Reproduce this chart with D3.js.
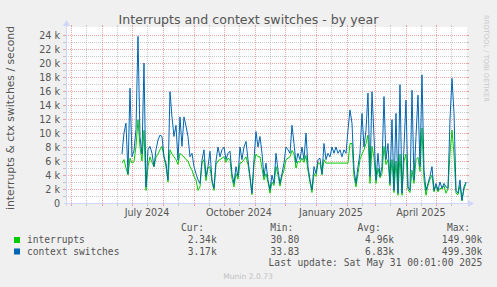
<!DOCTYPE html>
<html><head><meta charset="utf-8">
<script src="https://cdn.jsdelivr.net/npm/d3@7"></script>
<style>
html,body{margin:0;padding:0;background:#f0f0f0;}
svg{display:block;}
text{font-family:"DejaVu Sans",sans-serif;}
.mono{font-family:"DejaVu Sans Mono",monospace;}
</style></head><body>
<svg id="c" width="497" height="287"></svg>
<script>
// ---- data (values in thousands per second) ----
const firstSample = "2024-06-21";
const sampleStepDays = 2;
const contextSwitches = [
 7.0, 10.0, 11.4, 4.2, 16.4, 6.6, 7.5, 10.5, 23.8, 9.5,
 7.0, 20.0, 2.3, 7.6, 8.1, 7.1, 5.2, 7.6, 9.0, 9.7,
 9.5, 6.6, 5.7, 3.3, 15.9, 12.3, 9.5, 11.1, 6.1, 12.3,
 8.1, 12.3, 11.0, 9.5, 6.6, 7.1, 5.2, 4.2, 3.3, 2.8,
 6.1, 7.6, 3.8, 5.2, 7.4, 3.3, 2.1, 6.0, 8.0, 6.6,
 7.6, 8.0, 6.2, 7.1, 7.4, 4.2, 2.8, 5.2, 3.8, 8.0,
 6.2, 8.0, 8.8, 6.2, 3.8, 1.4, 6.2, 10.2, 8.0, 9.5,
 7.1, 3.8, 5.7, 3.3, 1.9, 4.0, 2.8, 7.1, 4.7, 2.8,
 4.2, 5.7, 8.0, 7.6, 7.1, 11.1, 8.5, 5.7, 7.1, 6.2,
 8.0, 6.2, 10.0, 5.2, 3.3, 1.9, 5.2, 4.2, 6.2, 6.4,
 4.2, 8.5, 6.2, 7.1, 6.6, 8.0, 7.1, 8.0, 7.1, 7.6,
 6.6, 7.6, 7.1, 10.4, 13.3, 11.4, 4.8, 2.8, 5.2, 7.1,
 12.8, 8.0, 10.4, 15.7, 3.8, 15.9, 9.5, 3.3, 7.1, 3.8,
 5.2, 15.2, 6.2, 8.5, 2.8, 11.9, 1.8, 12.8, 1.4, 16.9,
 1.4, 8.0, 14.7, 2.3, 1.8, 16.1, 3.3, 9.5, 15.4, 5.2,
 18.3, 4.7, 1.8, 2.8, 3.8, 5.2, 1.8, 2.8, 1.8, 3.0,
 2.1, 2.8, 2.3, 2.1, 11.9, 17.8, 12.9, 1.8, 1.4, 3.3,
 0.4, 2.3, 3.0
];
const interrupts = [
 5.7, 6.2, 5.0, 4.0, 6.4, 5.7, 5.9, 8.1, 11.9, 8.0,
 6.0, 10.4, 1.8, 5.2, 6.6, 5.8, 5.2, 6.5, 7.0, 7.6,
 8.1, 6.6, 5.2, 3.0, 7.6, 7.0, 6.6, 6.2, 5.5, 7.1,
 6.8, 6.6, 6.2, 6.0, 5.2, 4.7, 3.8, 3.3, 1.8, 2.3,
 5.7, 6.2, 3.2, 5.0, 5.2, 3.0, 1.8, 5.5, 6.0, 6.2,
 6.4, 6.6, 5.8, 6.4, 6.2, 3.5, 2.3, 4.2, 3.4, 5.7,
 5.8, 6.2, 6.6, 5.5, 3.5, 1.2, 5.5, 7.0, 6.6, 6.6,
 5.0, 3.3, 4.2, 3.0, 1.4, 3.0, 2.5, 5.2, 4.0, 2.4,
 3.8, 4.7, 6.2, 6.4, 6.6, 7.5, 7.0, 5.0, 6.0, 5.8,
 6.4, 5.8, 6.8, 4.6, 2.9, 1.5, 4.2, 3.8, 5.7, 5.7,
 4.0, 6.2, 5.7, 5.7, 5.7, 5.7, 5.7, 5.7, 5.7, 5.7,
 5.7, 5.7, 5.7, 5.7, 8.5, 8.5, 3.8, 2.3, 4.2, 6.2,
 7.0, 7.6, 8.5, 9.7, 2.8, 8.1, 6.5, 2.8, 5.0, 3.6,
 4.2, 8.1, 5.5, 6.2, 2.5, 6.2, 1.5, 6.0, 1.1, 7.0,
 1.1, 6.0, 7.0, 1.9, 1.5, 4.7, 2.8, 6.2, 6.5, 4.5,
 10.7, 3.3, 1.1, 2.5, 3.4, 4.0, 1.6, 2.5, 1.6, 2.1,
 2.0, 2.5, 1.4, 2.0, 7.1, 10.4, 7.0, 1.4, 1.2, 2.5,
 0.3, 2.0, 2.8
];
const yTickValues = [0, 2, 4, 6, 8, 10, 12, 14, 16, 18, 20, 22, 24];
const xLabels = ["July 2024", "October 2024", "January 2025", "April 2025"];
const xLabelMonths = ["2024-07-16", "2024-10-16", "2025-01-16", "2025-04-16"];
const seriesNames = ["interrupts", "context switches"];
const seriesColors = ["#00cc00", "#0066b3"];
const statHeaders = ["Cur:", "Min:", "Avg:", "Max:"];
const statsInterrupts = ["2.34k", "30.80", "4.96k", "149.90k"];
const statsContext = ["3.17k", "33.83", "6.83k", "499.30k"];
const titleText = "Interrupts and context switches - by year";
const yTitle = "interrupts & ctx switches / second";
const lastUpdate = "Last update: Sat May 31 00:01:00 2025";
const periodEnd = "2025-05-31T00:01:00Z";

// ---- layout ----
const L = 66, R = 466, B = 203, T = 27;
const svg = d3.select("#c");
const DAY = 86400000;
const end = new Date(periodEnd);
const start = new Date(end.getTime() - 400 * DAY);
const x = d3.scaleUtc().domain([start, end]).range([L, R]);
const y = d3.scaleLinear().domain([0, 24]).range([B, 35]);
const t0 = new Date(firstSample + "T00:00:00Z").getTime();
const dateAt = i => new Date(t0 + i * sampleStepDays * DAY);

svg.append("rect").attr("x", 0).attr("y", 0).attr("width", 497).attr("height", 287).attr("fill", "#f0f0f0");
svg.append("rect").attr("x", L).attr("y", T).attr("width", R - L + 1).attr("height", B - T).attr("fill", "#fff");

const g = svg.append("g").attr("shape-rendering", "crispEdges");
const minorC = "rgba(143,143,143,0.45)", majorC = "rgba(222,79,79,0.5)";
function vline(px, col) {
  const xx = Math.round(px) + 0.5;
  g.append("line").attr("x1", xx).attr("x2", xx).attr("y1", T + 1).attr("y2", B).attr("stroke", col).attr("stroke-dasharray", "1,1");
  g.append("line").attr("x1", xx).attr("x2", xx).attr("y1", B).attr("y2", B + 3).attr("stroke", col);
  g.append("line").attr("x1", xx).attr("x2", xx).attr("y1", T - 2).attr("y2", T).attr("stroke", col);
}
function hline(py, col) {
  const yy = Math.round(py) + 0.5;
  g.append("line").attr("x1", L).attr("x2", R).attr("y1", yy).attr("y2", yy).attr("stroke", col).attr("stroke-dasharray", "1,1");
  g.append("line").attr("x1", L - 3).attr("x2", L).attr("y1", yy).attr("y2", yy).attr("stroke", col);
  g.append("line").attr("x1", R).attr("x2", R + 3).attr("y1", yy).attr("y2", yy).attr("stroke", col);
}
// minor vertical grid (mid month) and horizontal (1k)
d3.utcMonth.range(d3.utcMonth.floor(start), end).forEach(m => {
  const mid = d3.utcDay.offset(m, 15);
  if (mid > start && mid < end) vline(x(mid), minorC);
});
d3.range(1, 25, 2).forEach(v => hline(y(v), minorC));
d3.utcMonth.range(start, end).forEach(m => vline(x(m), majorC));
yTickValues.filter(v => v > 0).forEach(v => hline(y(v), majorC));

// axes
const axC = "#cfd6f8";
g.append("line").attr("x1", L - 2).attr("x2", R + 4).attr("y1", B + 0.5).attr("y2", B + 0.5).attr("stroke", axC);
g.append("line").attr("x1", L + 0.5).attr("x2", L + 0.5).attr("y1", B + 3).attr("y2", T - 4).attr("stroke", axC);
svg.append("path").attr("d", `M${R + 2},${B - 3} L${R + 8},${B + 0.5} L${R + 2},${B + 4} Z`).attr("fill", axC);
svg.append("path").attr("d", `M${L - 3},${T - 1} L${L + 0.5},${T - 7} L${L + 4},${T - 1} Z`).attr("fill", axC);

// y tick labels
yTickValues.forEach(v => {
  svg.append("text").attr("x", 60).attr("y", y(v) + 3.5).attr("text-anchor", "end")
    .attr("font-size", "9.6px").attr("fill", "#555").text(v === 0 ? "0" : v + " k");
});
// x labels
xLabels.forEach((lab, i) => {
  svg.append("text").attr("x", x(new Date(xLabelMonths[i] + "T00:00:00Z"))).attr("y", 216)
    .attr("text-anchor", "middle").attr("font-size", "9.6px").attr("fill", "#555").text(lab);
});

// lines
const lineGen = d3.line().x((d, i) => x(dateAt(i))).y(d => y(d));
svg.append("path").datum(interrupts).attr("d", lineGen).attr("fill", "none").attr("stroke", seriesColors[0]).attr("stroke-width", 1);
svg.append("path").datum(contextSwitches).attr("d", lineGen).attr("fill", "none").attr("stroke", seriesColors[1]).attr("stroke-width", 1);

// titles
svg.append("text").attr("x", 248.5).attr("y", 24).attr("text-anchor", "middle").attr("font-size", "12.6px").attr("fill", "#555").text(titleText);
svg.append("text").attr("transform", "translate(14,118) rotate(-90)").attr("text-anchor", "middle").attr("font-size", "10.8px").attr("fill", "#555").text(yTitle);
svg.append("text").attr("transform", "translate(484,15) rotate(90)").attr("font-size", "6.75px").attr("fill", "#c8c8c8").text("RRDTOOL / TOBI OETIKER");

// legend
const hdrX = [204, 293.3, 380.7, 470];
const valX = [216.7, 299.3, 394, 482.3];
statHeaders.forEach((h, i) => svg.append("text").attr("class", "mono").attr("x", hdrX[i]).attr("y", 231).attr("text-anchor", "end").attr("font-size", "9.6px").attr("fill", "#555").text(h));
const rowsY = [243, 254.5];
[statsInterrupts, statsContext].forEach((vals, r) => {
  svg.append("rect").attr("x", 14).attr("y", rowsY[r] - 6).attr("width", 6).attr("height", 6).attr("fill", seriesColors[r]);
  svg.append("text").attr("class", "mono").attr("x", 27).attr("y", rowsY[r]).attr("font-size", "9.6px").attr("fill", "#555").text(seriesNames[r]);
  vals.forEach((v, i) => svg.append("text").attr("class", "mono").attr("x", valX[i]).attr("y", rowsY[r]).attr("text-anchor", "end").attr("font-size", "9.6px").attr("fill", "#555").text(v));
});
svg.append("text").attr("class", "mono").attr("x", 482.3).attr("y", 266).attr("text-anchor", "end").attr("font-size", "9.6px").attr("fill", "#555").text(lastUpdate);
svg.append("text").attr("x", 248).attr("y", 279).attr("text-anchor", "middle").attr("font-size", "7.6px").attr("fill", "#c0c0c0").text("Munin 2.0.73");
</script>
</body></html>
